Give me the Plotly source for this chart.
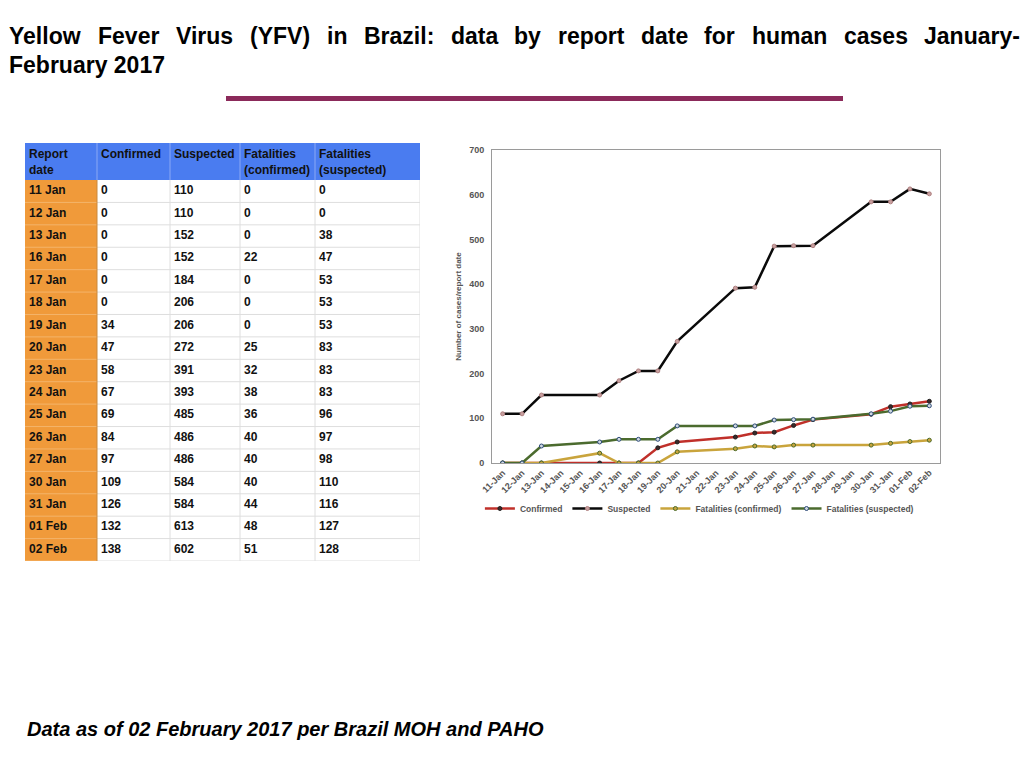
import plotly.graph_objects as go

# Table / chart data (report dates)
report_dates = ['11 Jan', '12 Jan', '13 Jan', '16 Jan', '17 Jan', '18 Jan', '19 Jan',
                '20 Jan', '23 Jan', '24 Jan', '25 Jan', '26 Jan', '27 Jan', '30 Jan',
                '31 Jan', '01 Feb', '02 Feb']
confirmed = [0, 0, 0, 0, 0, 0, 34, 47, 58, 67, 69, 84, 97, 109, 126, 132, 138]
suspected = [110, 110, 152, 152, 184, 206, 206, 272, 391, 393, 485, 486, 486, 584, 584, 613, 602]
fatal_confirmed = [0, 0, 0, 22, 0, 0, 0, 25, 32, 38, 36, 40, 40, 40, 44, 48, 51]
fatal_suspected = [0, 0, 38, 47, 53, 53, 53, 83, 83, 83, 96, 97, 98, 110, 116, 127, 128]

# every calendar day shown on the chart axis
axis_days = ['11-Jan', '12-Jan', '13-Jan', '14-Jan', '15-Jan', '16-Jan', '17-Jan', '18-Jan',
             '19-Jan', '20-Jan', '21-Jan', '22-Jan', '23-Jan', '24-Jan', '25-Jan', '26-Jan',
             '27-Jan', '28-Jan', '29-Jan', '30-Jan', '31-Jan', '01-Feb', '02-Feb']

header_labels = ['Report<br>date', 'Confirmed', 'Suspected', 'Fatalities<br>(confirmed)',
                 'Fatalities<br>(suspected)']
y_ticks = [0, 100, 200, 300, 400, 500, 600, 700]

title_words = ['Yellow', 'Fever', 'Virus', '(YFV)', 'in', 'Brazil:', 'data', 'by', 'report',
               'date', 'for', 'human', 'cases', 'January-']
# left edge of each word (px) so the first title line is justified like the slide
title_word_left = [7, 96, 174, 248, 325, 362, 449, 512, 556, 639, 702, 750, 842, 922]

W, H = 1024, 768
FONT = 'Liberation Sans'
ORANGE = '#f09a3a'
BLUE = '#4a7cf0'

# table geometry (px)
col_widths = [72, 73, 70, 75, 105]
header_h = 37
row_h = 22.4

fig = go.Figure()

# ---- table, drawn as a heatmap of cell fills on its own hidden axes
x_edges = [0]
for w in col_widths:
    x_edges.append(x_edges[-1] + w)
y_edges = [0, header_h]
for _ in report_dates:
    y_edges.append(y_edges[-1] + row_h)

z = [[2] * len(col_widths)]
for _ in report_dates:
    z.append([1] + [0] * (len(col_widths) - 1))

fig.add_trace(go.Heatmap(
    x=x_edges, y=y_edges, z=z, xaxis='x2', yaxis='y2',
    zmin=0, zmax=2, showscale=False, hoverinfo='skip',
    colorscale=[[0, '#ffffff'], [0.25, '#ffffff'], [0.25, ORANGE], [0.75, ORANGE],
                [0.75, BLUE], [1, BLUE]],
))


def grid(xs, ys, color, width=1):
    fig.add_trace(go.Scatter(x=xs, y=ys, xaxis='x2', yaxis='y2', mode='lines',
                             line=dict(color=color, width=width),
                             hoverinfo='skip', showlegend=False))


# horizontal row rules
hx, hy, ox, oy = [], [], [], []
for yb in y_edges[2:]:
    hx += [x_edges[1], x_edges[-1], None]
    hy += [yb, yb, None]
    ox += [x_edges[0], x_edges[1], None]
    oy += [yb, yb, None]
grid(hx, hy, '#dedede')
grid(ox, oy, '#f4b46a')
# vertical column rules
vx, vy, bx, by = [], [], [], []
for xb in x_edges[2:]:
    vx += [xb, xb, None]
    vy += [header_h, y_edges[-1], None]
for xb in x_edges[1:-1]:
    bx += [xb, xb, None]
    by += [0, header_h, None]
grid(vx, vy, '#dedede')
grid(bx, by, '#8aa8f5')
grid([x_edges[1], x_edges[1]], [header_h, y_edges[-1]], '#c98a40')

# header text
fig.add_trace(go.Scatter(
    x=[e + 4 for e in x_edges[:-1]], y=[6] * len(header_labels), text=header_labels,
    xaxis='x2', yaxis='y2', mode='text', textposition='bottom right',
    textfont=dict(family=FONT, size=12, weight='bold', color='#111111'),
    hoverinfo='skip', showlegend=False,
))
# body text, one column at a time
row_mid = [(y_edges[i + 1] + y_edges[i + 2]) / 2 for i in range(len(report_dates))]
columns = [report_dates, confirmed, suspected, fatal_confirmed, fatal_suspected]
for ci, col in enumerate(columns):
    fig.add_trace(go.Scatter(
        x=[x_edges[ci] + 4] * len(col), y=row_mid, text=[str(v) for v in col],
        xaxis='x2', yaxis='y2', mode='text', textposition='middle right',
        textfont=dict(family=FONT, size=12, weight='bold', color='#111111'),
        hoverinfo='skip', showlegend=False,
    ))

# ---- line chart
chart_x = [d.replace(' ', '-') for d in report_dates]
series = [
    ('Confirmed', confirmed, '#c0302a', '#3a2a2a', '#202020'),
    ('Suspected', suspected, '#0a0a0a', '#c8a0a0', '#b08080'),
    ('Fatalities (confirmed)', fatal_confirmed, '#c9a43c', '#c9a43c', '#4a6a2a'),
    ('Fatalities (suspected)', fatal_suspected, '#4b6b2e', '#d0d8e0', '#2c4a78'),
]
for name, vals, lc, mfill, mline in series:
    fig.add_trace(go.Scatter(
        x=chart_x, y=vals, name=name, mode='lines+markers',
        line=dict(color=lc, width=2.5),
        marker=dict(symbol='circle', size=4, color=mfill, line=dict(color=mline, width=1)),
    ))

fig.update_layout(
    width=W, height=H,
    margin=dict(l=0, r=0, t=0, b=0, autoexpand=False),
    paper_bgcolor='white', plot_bgcolor='white',
    font=dict(family=FONT, color='#555555'),
    xaxis=dict(
        domain=[492 / W, 940 / W], automargin=False,
        type='category', categoryorder='array', categoryarray=axis_days,
        tickvals=axis_days, ticktext=axis_days,
        range=[-0.55, len(axis_days) - 0.45],
        tickangle=-45, showgrid=False, zeroline=False,
        showline=True, linecolor='#9a9a9a', linewidth=1, mirror=True,
        ticks='', tickfont=dict(size=9, weight='bold', color='#555555'),
    ),
    yaxis=dict(
        domain=[1 - 463 / H, 1 - 150 / H], automargin=False,
        range=[0, 700], tickvals=y_ticks,
        showgrid=False, zeroline=False,
        showline=True, linecolor='#9a9a9a', linewidth=1, mirror=True,
        ticks='', ticklabelstandoff=5,
        tickfont=dict(size=9, weight='bold', color='#555555'),
        title=dict(text='Number of cases/report date', standoff=6,
                   font=dict(size=8, weight='bold', color='#555555')),
    ),
    xaxis2=dict(domain=[25 / W, 420 / W], range=[0, x_edges[-1]], visible=False,
                fixedrange=True, anchor='y2'),
    yaxis2=dict(domain=[1 - 561 / H, 1 - 143 / H], range=[y_edges[-1], 0], visible=False,
                fixedrange=True, anchor='x2'),
    legend=dict(
        orientation='h', x=0.683, xanchor='center', y=1 - 494 / H, yanchor='top',
        font=dict(size=8.5, weight='bold', color='#555555'),
        itemwidth=30, bgcolor='rgba(0,0,0,0)',
    ),
)

# ---- slide title (first line justified across the slide)
for word, left in zip(title_words, title_word_left):
    fig.add_annotation(
        text=word, x=left / W, y=1 - 36 / H, xref='paper', yref='paper',
        xanchor='left', yanchor='middle', showarrow=False,
        font=dict(family=FONT, size=23, weight='bold', color='#000000'),
    )
fig.add_annotation(
    text='February 2017', x=7 / W, y=1 - 65 / H, xref='paper', yref='paper',
    xanchor='left', yanchor='middle', showarrow=False,
    font=dict(family=FONT, size=23, weight='bold', color='#000000'),
)

# decorative rule under the title
fig.add_shape(type='rect', xref='paper', yref='paper',
              x0=226 / W, x1=843 / W, y0=1 - 101 / H, y1=1 - 96 / H,
              fillcolor='#8b2a5a', line=dict(width=0))

# footer note
fig.add_annotation(
    text='<i>Data as of 02 February 2017 per Brazil MOH and PAHO</i>',
    x=25 / W, y=1 - 729 / H, xref='paper', yref='paper',
    xanchor='left', yanchor='middle', showarrow=False,
    font=dict(family=FONT, size=20, weight='bold', color='#000000'),
)

fig.write_html('out.html', config={'displayModeBar': False},
               post_script="document.body.style.margin='0px';")
